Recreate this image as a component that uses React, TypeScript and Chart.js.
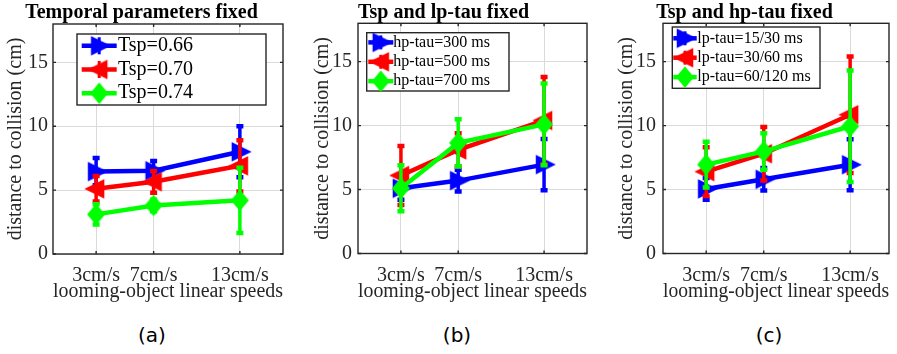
import React, { useEffect, useRef } from 'react';
import { Chart, registerables } from 'chart.js';

Chart.register(...registerables);

// Speeds of the looming object (x positions) and their tick labels
const SPEEDS = [3, 7, 13];
const SPEED_LABELS = ['3cm/s', '7cm/s', '13cm/s'];
const Y_TICKS = [0, 5, 10, 15];

// (a) Temporal parameters fixed
const TSP_066 = [6.45, 6.52, 8.0];
const TSP_066_ERR = [1.07, 0.76, 2.0];
const TSP_070 = [5.1, 5.65, 6.9];
const TSP_070_ERR = [1.0, 0.85, 2.0];
const TSP_074 = [3.1, 3.8, 4.2];
const TSP_074_ERR = [0.8, 0.45, 2.55];

// (b) Tsp and lp-tau fixed
const HP_300 = [5.1, 5.7, 6.95];
const HP_300_ERR = [0.9, 0.85, 2.0];
const HP_500 = [6.1, 8.1, 10.4];
const HP_500_ERR = [2.3, 1.3, 3.4];
const HP_700 = [5.1, 8.65, 10.1];
const HP_700_ERR = [1.8, 1.85, 3.2];

// (c) Tsp and hp-tau fixed
const LP_15 = [5.05, 5.8, 6.94];
const LP_15_ERR = [0.85, 0.88, 2.0];
const LP_30 = [6.4, 7.8, 10.85];
const LP_30_ERR = [1.9, 2.1, 4.55];
const LP_60 = [6.95, 7.98, 9.95];
const LP_60_ERR = [1.78, 1.43, 4.36];

const SERIF = "'Liberation Serif', 'Times New Roman', serif";
const BLUE = '#0000ff';
const RED = '#ff0000';
const GREEN = '#00ff00';
const AXIS_COLOR = '#262626';
const GRID_COLOR = '#dadada';

type Shape = 'right' | 'left' | 'diamond';

function makeMarker(shape: Shape, color: string): HTMLCanvasElement {
  const c = document.createElement('canvas');
  c.width = 26;
  c.height = 24;
  const g = c.getContext('2d')!;
  const cx = 13;
  const cy = 12;
  g.beginPath();
  if (shape === 'right') {
    g.moveTo(cx + 10, cy);
    g.lineTo(cx - 7.5, cy - 8.5);
    g.lineTo(cx - 7.5, cy + 8.5);
  } else if (shape === 'left') {
    g.moveTo(cx - 10, cy);
    g.lineTo(cx + 7.5, cy - 8.5);
    g.lineTo(cx + 7.5, cy + 8.5);
  } else {
    g.moveTo(cx, cy - 9.5);
    g.lineTo(cx + 8, cy);
    g.lineTo(cx, cy + 9.5);
    g.lineTo(cx - 8, cy);
  }
  g.closePath();
  g.fillStyle = color;
  g.strokeStyle = color;
  g.lineWidth = 1.5;
  g.fill();
  g.stroke();
  return c;
}

type Series = { label: string; values: number[]; errors: number[]; color: string; shape: Shape };

type LegendLayout = {
  dx: number; dy: number; w: number; h: number;
  firstRow: number; rowH: number;
  lineX0: number; lineX1: number; textX: number; fontSize: number;
};

type PanelCfg = {
  title: string;
  series: Series[];
  left: number;
  width: number;
  yWidth: number;
  padRight: number;
  titlePadTop: number;
  titlePad: number;
  xHeight: number;
  xMax: number;
  yTitlePad: number;
  yTickPad: number;
  legend: LegendLayout;
};

const PANELS: PanelCfg[] = [
  {
    title: 'Temporal parameters fixed',
    series: [
      { label: 'Tsp=0.66', values: TSP_066, errors: TSP_066_ERR, color: BLUE, shape: 'right' },
      { label: 'Tsp=0.70', values: TSP_070, errors: TSP_070_ERR, color: RED, shape: 'left' },
      { label: 'Tsp=0.74', values: TSP_074, errors: TSP_074_ERR, color: GREEN, shape: 'diamond' },
    ],
    left: 0, width: 300, yWidth: 53, padRight: 17, titlePadTop: 4, titlePad: 2, xHeight: 56, xMax: 16,
    yTitlePad: 3.5, yTickPad: 5,
    legend: { dx: 24, dy: 10, w: 189, h: 71, firstRow: 11.8, rowH: 23.7, lineX0: 4.7, lineX1: 39.7, textX: 41, fontSize: 20 },
  },
  {
    title: 'Tsp and lp-tau fixed',
    series: [
      { label: 'hp-tau=300 ms', values: HP_300, errors: HP_300_ERR, color: BLUE, shape: 'right' },
      { label: 'hp-tau=500 ms', values: HP_500, errors: HP_500_ERR, color: RED, shape: 'left' },
      { label: 'hp-tau=700 ms', values: HP_700, errors: HP_700_ERR, color: GREEN, shape: 'diamond' },
    ],
    left: 300, width: 300, yWidth: 58, padRight: 13, titlePadTop: 4, titlePad: 1.3, xHeight: 56.5, xMax: 16,
    yTitlePad: 11, yTickPad: 6,
    legend: { dx: 8.7, dy: 9.4, w: 142.3, h: 58.3, firstRow: 9.7, rowH: 19.4, lineX0: 1.6, lineX1: 26.6, textX: 26.6, fontSize: 16 },
  },
  {
    title: 'Tsp and hp-tau fixed',
    series: [
      { label: 'lp-tau=15/30 ms', values: LP_15, errors: LP_15_ERR, color: BLUE, shape: 'right' },
      { label: 'lp-tau=30/60 ms', values: LP_30, errors: LP_30_ERR, color: RED, shape: 'left' },
      { label: 'lp-tau=60/120 ms', values: LP_60, errors: LP_60_ERR, color: GREEN, shape: 'diamond' },
    ],
    left: 600, width: 297, yWidth: 63, padRight: 8, titlePadTop: 4, titlePad: 1.3, xHeight: 56.5, xMax: 15.7,
    yTitlePad: 15, yTickPad: 7,
    legend: { dx: 9.3, dy: 3.7, w: 147.7, h: 61.3, firstRow: 11.3, rowH: 19.4, lineX0: 1, lineX1: 24.4, textX: 25, fontSize: 16 },
  },
];

const CAPTIONS = [
  { text: '(a)', x: 152 },
  { text: '(b)', x: 457 },
  { text: '(c)', x: 769 },
];

const CANVAS_H = 310;

// Vertical error bars with short caps, drawn just beneath each series' own line and markers
const errorBarPlugin = {
  id: 'errorBars',
  beforeDatasetDraw(chart: any, args: any) {
    const ds = chart.data.datasets[args.index];
    const errs: number[] | undefined = ds.errors;
    if (!errs) return;
    const xs = chart.scales.x;
    const ys = chart.scales.y;
    const ctx: CanvasRenderingContext2D = chart.ctx;
    ctx.save();
    ctx.strokeStyle = ds.borderColor;
    ds.data.forEach((p: { x: number; y: number }, i: number) => {
      const px = xs.getPixelForValue(p.x);
      const yLo = ys.getPixelForValue(p.y - errs[i]);
      const yHi = ys.getPixelForValue(p.y + errs[i]);
      ctx.lineWidth = 3.5;
      ctx.beginPath();
      ctx.moveTo(px, yLo);
      ctx.lineTo(px, yHi);
      ctx.stroke();
      ctx.lineWidth = 4.5;
      ctx.beginPath();
      ctx.moveTo(px - 3.5, yLo);
      ctx.lineTo(px + 3.5, yLo);
      ctx.moveTo(px - 3.5, yHi);
      ctx.lineTo(px + 3.5, yHi);
      ctx.stroke();
    });
    ctx.restore();
  },
};

// Axes box with small inward tick marks on all four sides
const framePlugin = {
  id: 'axesFrame',
  afterDatasetsDraw(chart: any) {
    const { ctx, chartArea } = chart;
    const { left, right, top, bottom } = chartArea;
    const xs = chart.scales.x;
    const ys = chart.scales.y;
    ctx.save();
    ctx.strokeStyle = AXIS_COLOR;
    ctx.lineWidth = 1.4;
    ctx.strokeRect(left, top, right - left, bottom - top);
    ctx.beginPath();
    const t = 3;
    SPEEDS.forEach((v) => {
      const px = xs.getPixelForValue(v);
      ctx.moveTo(px, bottom);
      ctx.lineTo(px, bottom - t);
      ctx.moveTo(px, top);
      ctx.lineTo(px, top + t);
    });
    Y_TICKS.forEach((v) => {
      const py = ys.getPixelForValue(v);
      ctx.moveTo(left, py);
      ctx.lineTo(left + t, py);
      ctx.moveTo(right, py);
      ctx.lineTo(right - t, py);
    });
    ctx.stroke();
    ctx.restore();
  },
};

function makeLegendPlugin(cfg: LegendLayout, markers: HTMLCanvasElement[]) {
  return {
    id: 'boxLegend',
    afterDraw(chart: any) {
      const { ctx, chartArea } = chart;
      const x0 = chartArea.left + cfg.dx;
      const y0 = chartArea.top + cfg.dy;
      ctx.save();
      ctx.fillStyle = '#ffffff';
      ctx.fillRect(x0, y0, cfg.w, cfg.h);
      ctx.strokeStyle = AXIS_COLOR;
      ctx.lineWidth = 1.4;
      ctx.strokeRect(x0, y0, cfg.w, cfg.h);
      chart.data.datasets.forEach((ds: any, i: number) => {
        const cy = y0 + cfg.firstRow + i * cfg.rowH;
        const lx0 = x0 + cfg.lineX0;
        const lx1 = x0 + cfg.lineX1;
        const mx = (lx0 + lx1) / 2;
        ctx.strokeStyle = ds.borderColor;
        ctx.lineWidth = 4.5;
        ctx.beginPath();
        ctx.moveTo(lx0, cy);
        ctx.lineTo(lx1, cy);
        ctx.stroke();
        ctx.lineWidth = 3;
        ctx.beginPath();
        ctx.moveTo(mx, cy - cfg.rowH * 0.36);
        ctx.lineTo(mx, cy + cfg.rowH * 0.36);
        ctx.stroke();
        const m = markers[i];
        ctx.drawImage(m, mx - m.width / 2, cy - m.height / 2);
        ctx.fillStyle = '#000000';
        ctx.font = `${cfg.fontSize}px ${SERIF}`;
        ctx.textBaseline = 'middle';
        ctx.textAlign = 'left';
        ctx.fillText(ds.label, x0 + cfg.textX, cy);
      });
      ctx.restore();
    },
  };
}

function Panel({ cfg }: { cfg: PanelCfg }) {
  const ref = useRef<HTMLCanvasElement>(null);

  useEffect(() => {
    const canvas = ref.current;
    if (!canvas) return;
    const markers = cfg.series.map((s) => makeMarker(s.shape, s.color));
    const axisFont = { family: SERIF, size: 20 };
    const chart = new Chart(canvas, {
      type: 'line',
      data: {
        datasets: cfg.series.map((s, i) => ({
          label: s.label,
          data: SPEEDS.map((x, k) => ({ x, y: s.values[k] })),
          errors: s.errors,
          borderColor: s.color,
          backgroundColor: s.color,
          borderWidth: 4.5,
          pointStyle: markers[i],
          pointRadius: 10,
          pointHoverRadius: 10,
          tension: 0,
          fill: false,
          order: cfg.series.length - i,
        })) as any,
      },
      options: {
        animation: false,
        responsive: false,
        events: [],
        layout: { autoPadding: false, padding: { left: 0, right: cfg.padRight, top: 0, bottom: 0 } },
        plugins: {
          legend: { display: false },
          tooltip: { enabled: false },
          title: {
            display: true,
            text: cfg.title,
            color: '#000000',
            font: { family: SERIF, size: 20, weight: 'bold', lineHeight: 0.9 },
            padding: { top: cfg.titlePadTop, bottom: cfg.titlePad },
          },
        },
        scales: {
          x: {
            type: 'linear',
            min: 0,
            max: cfg.xMax,
            afterBuildTicks: (s: any) => {
              s.ticks = SPEEDS.map((v) => ({ value: v }));
            },
            afterFit: (s: any) => {
              s.height = cfg.xHeight;
            },
            ticks: {
              autoSkip: false,
              maxRotation: 0,
              padding: 10,
              color: AXIS_COLOR,
              font: axisFont,
              callback: (v: any) => {
                const k = SPEEDS.indexOf(Number(v));
                return k >= 0 ? SPEED_LABELS[k] : '';
              },
            },
            grid: { color: GRID_COLOR, lineWidth: 1, drawTicks: false },
            border: { display: false },
            title: {
              display: true,
              text: 'looming-object linear speeds',
              color: AXIS_COLOR,
              font: axisFont,
              padding: { top: 0, bottom: 6 },
            },
          },
          y: {
            type: 'linear',
            min: 0,
            max: 18,
            afterBuildTicks: (s: any) => {
              s.ticks = Y_TICKS.map((v) => ({ value: v }));
            },
            afterFit: (s: any) => {
              s.width = cfg.yWidth;
            },
            ticks: {
              padding: cfg.yTickPad,
              color: AXIS_COLOR,
              font: axisFont,
              callback: (v: any) => String(v),
            },
            grid: { color: GRID_COLOR, lineWidth: 1, drawTicks: false },
            border: { display: false },
            title: {
              display: true,
              text: 'distance to collision (cm)',
              color: AXIS_COLOR,
              font: axisFont,
              padding: { top: cfg.yTitlePad, bottom: 0 },
            },
          },
        },
      } as any,
      plugins: [errorBarPlugin, framePlugin, makeLegendPlugin(cfg.legend, markers)],
    });
    return () => chart.destroy();
  }, [cfg]);

  return (
    <div style={{ position: 'absolute', left: cfg.left, top: 0, width: cfg.width, height: CANVAS_H }}>
      <canvas ref={ref} width={cfg.width} height={CANVAS_H} style={{ display: 'block' }} />
    </div>
  );
}

export default function App() {
  return (
    <div style={{ position: 'absolute', left: 0, top: 0, width: 897, height: 354, background: '#ffffff', overflow: 'hidden' }}>
      {PANELS.map((p, i) => (
        <Panel key={i} cfg={p} />
      ))}
      {CAPTIONS.map((c) => (
        <div
          key={c.text}
          style={{
            position: 'absolute',
            left: c.x - 30,
            width: 60,
            top: 321,
            textAlign: 'center',
            fontFamily: "'DejaVu Sans', sans-serif",
            fontSize: 20,
            lineHeight: '28px',
            color: '#000000',
          }}
        >
          {c.text}
        </div>
      ))}
    </div>
  );
}
